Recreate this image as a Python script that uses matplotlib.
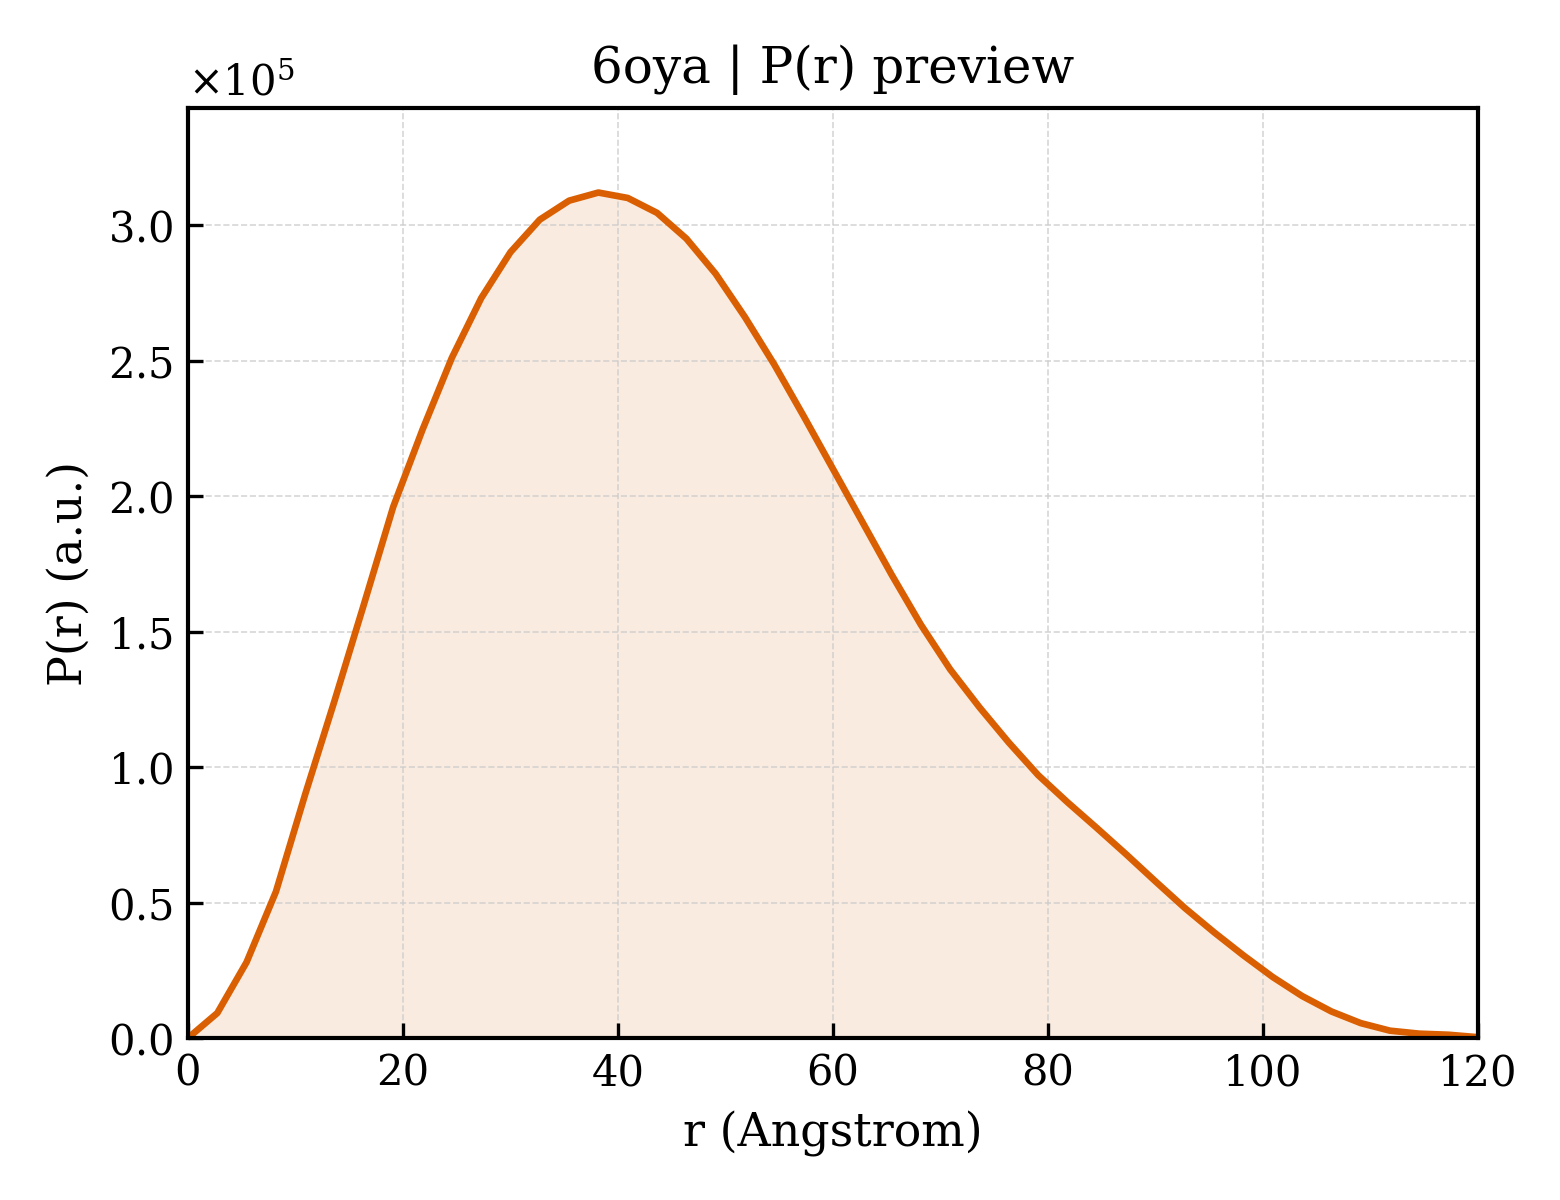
import numpy as np
import matplotlib
matplotlib.use("Agg")
import matplotlib.pyplot as plt

plt.rcParams['font.family'] = 'serif'
plt.rcParams['font.serif'] = ['DejaVu Serif']
plt.rcParams['mathtext.fontset'] = 'dejavuserif'

r_max = 120.0
n_points = 45
p_scaled = [0.0, 0.092, 0.28, 0.54, 0.90, 1.245, 1.60, 1.96, 2.245, 2.51,
            2.73, 2.90, 3.02, 3.09, 3.12, 3.10, 3.045, 2.95, 2.82, 2.66,
            2.485, 2.295, 2.10, 1.905, 1.71, 1.525, 1.36, 1.22, 1.09, 0.97,
            0.87, 0.775, 0.678, 0.578, 0.48, 0.39, 0.305, 0.225, 0.155, 0.098,
            0.055, 0.027, 0.016, 0.012, 0.003]

r = np.linspace(0, r_max, n_points)
pr = np.array(p_scaled) * 1e5

color = '#d95f02'

fig, ax = plt.subplots(figsize=(5.2, 4), dpi=300)
fig.subplots_adjust(left=0.1205, right=0.9474, top=0.91, bottom=0.135)

ax.fill_between(r, pr, 0, color=color, alpha=0.12, linewidth=0)
ax.plot(r, pr, color=color, lw=1.6)

ax.set_xlim(0, r_max)
ax.set_ylim(0, pr.max() * 1.1)
ax.set_xlabel('r (Angstrom)', fontsize=11)
ax.set_ylabel('P(r) (a.u.)', fontsize=11)
ax.set_title('6oya | P(r) preview', fontsize=12)

ax.ticklabel_format(axis='y', style='sci', scilimits=(0, 0), useMathText=True)
ax.tick_params(direction='in', labelsize=10, width=0.8)
ax.yaxis.get_offset_text().set_fontsize(10)
ax.grid(True, linestyle='--', linewidth=0.4, color='#cccccc', alpha=0.8)
for s in ax.spines.values():
    s.set_linewidth(1.0)

fig.savefig('out.png', dpi=300)
